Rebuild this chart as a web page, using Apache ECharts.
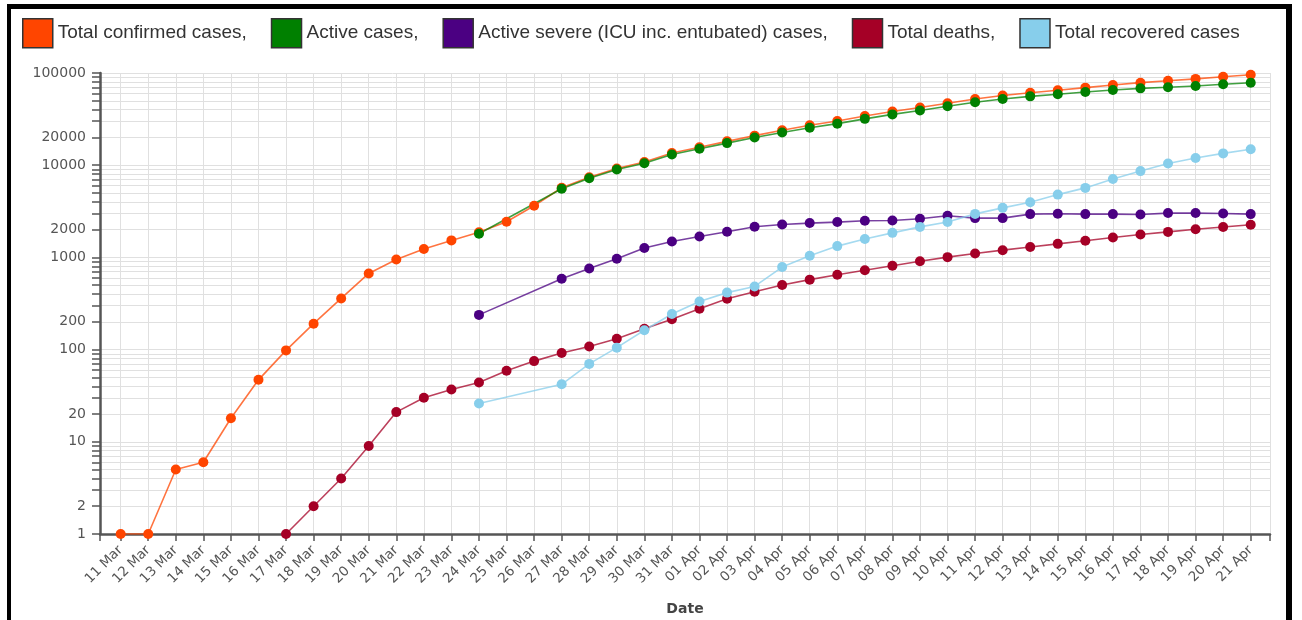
<!DOCTYPE html>
<html>
<head>
<meta charset="utf-8">
<script src="https://cdn.jsdelivr.net/npm/echarts@6/dist/echarts.min.js"></script>
<style>
  html, body { margin: 0; padding: 0; background: #fff; overflow: hidden; }
  #frame {
    position: absolute; left: 7px; top: 4px; width: 1275px; height: 700px;
    border-left: 4px solid #000; border-top: 5px solid #000; border-right: 6px solid #000;
  }
  #chart { position: absolute; left: 0; top: 0; width: 1302px; height: 620px; }
</style>
</head>
<body>
<div id="frame"></div>
<div id="chart"></div>
<script>
(function () {
  const dates = [
    '11 Mar', '12 Mar', '13 Mar', '14 Mar', '15 Mar', '16 Mar', '17 Mar', '18 Mar', '19 Mar', '20 Mar',
    '21 Mar', '22 Mar', '23 Mar', '24 Mar', '25 Mar', '26 Mar', '27 Mar', '28 Mar', '29 Mar', '30 Mar',
    '31 Mar', '01 Apr', '02 Apr', '03 Apr', '04 Apr', '05 Apr', '06 Apr', '07 Apr', '08 Apr', '09 Apr',
    '10 Apr', '11 Apr', '12 Apr', '13 Apr', '14 Apr', '15 Apr', '16 Apr', '17 Apr', '18 Apr', '19 Apr',
    '20 Apr', '21 Apr'
  ];

  const confirmed = [
    1, 1, 5, 6, 18, 47, 98, 191, 359, 670,
    947, 1236, 1529, 1872, 2433, 3629, 5698, 7402, 9217, 10827,
    13531, 15679, 18135, 20921, 23934, 27069, 30217, 34109, 38226, 42282,
    47029, 52167, 56956, 61049, 65111, 69392, 74193, 78546, 82329, 86306,
    90980, 95591
  ];
  const active = [
    null, null, null, null, null, null, null, null, null, null,
    null, null, null, 1802, null, null, 5564, 7224, 8981, 10497,
    13074, 15069, 17364, 20012, 22647, 25453, 28242, 31802, 35568, 39232,
    43600, 48101, 52312, 55796, 58909, 62200, 65461, 68146, 69986, 72313,
    75410, 78414
  ];
  const severe = [
    null, null, null, null, null, null, null, null, null, null,
    null, null, null, 238, null, null, 586, 757, 966, 1262,
    1487, 1686, 1896, 2148, 2275, 2356, 2416, 2495, 2513, 2623,
    2828, 2669, 2669, 2949, 2972, 2949, 2949, 2920, 3025, 3025,
    2993, 2949
  ];
  const deaths = [
    null, null, null, null, null, null, 1, 2, 4, 9,
    21, 30, 37, 44, 59, 75, 92, 108, 131, 168,
    214, 277, 356, 425, 501, 574, 649, 725, 812, 908,
    1006, 1101, 1198, 1296, 1403, 1518, 1643, 1769, 1890, 2017,
    2140, 2259
  ];
  const recovered = [
    null, null, null, null, null, null, null, null, null, null,
    null, null, null, 26, null, null, 42, 70, 105, 162,
    243, 333, 415, 484, 786, 1042, 1326, 1582, 1846, 2142,
    2423, 2965, 3446, 3957, 4799, 5674, 7089, 8631, 10453, 11976,
    13430, 14918
  ];

  const yLabelValues = [1, 2, 10, 20, 100, 200, 1000, 2000, 10000, 20000, 100000];

  // minor log grid: 1..9 x 10^k
  const yGridValues = [];
  for (let k = 0; k < 5; k++) {
    for (let m = 1; m < 10; m++) yGridValues.push(m * Math.pow(10, k));
  }
  yGridValues.push(100000);

  const xMin = -0.75, xMax = 41.7;
  const xIdx = dates.map((d, i) => i);

  const names = [
    'Total confirmed cases',
    'Active cases',
    'Active severe (ICU inc. entubated) cases',
    'Total deaths',
    'Total recovered cases'
  ];
  const colors = ['#ff4500', '#008000', '#4b0082', '#a50026', '#87ceeb'];
  const values = [confirmed, active, severe, deaths, recovered];

  function toPoints(arr) {
    return arr.map((v, i) => (v == null ? null : [i, v])).filter(p => p);
  }

  const series = names.map((name, s) => ({
    name: name,
    type: 'line',
    data: toPoints(values[s]),
    symbol: 'circle',
    symbolSize: 10,
    itemStyle: { color: colors[s] },
    lineStyle: { color: colors[s], width: 1.6, opacity: 0.75 },
    emphasis: { disabled: true },
    animation: false
  }));

  const axisColor = '#555';
  const gridColor = '#e0e0e0';

  const option = {
    animation: false,
    legend: {
      data: names,
      left: 22,
      top: 18,
      padding: 0,
      icon: 'rect',
      itemWidth: 30,
      itemHeight: 29,
      itemGap: 24,
      itemStyle: { borderColor: '#333', borderWidth: 1.5 },
      formatter: n => (n === names[names.length - 1] ? n : n + ','),
      textStyle: { fontFamily: 'Liberation Sans', fontSize: 19, color: '#333' },
      selectedMode: false
    },
    grid: { left: 100, right: 32, top: 73, bottom: 86, containLabel: false, outerBoundsMode: 'none' },
    xAxis: {
      type: 'value',
      min: xMin,
      max: xMax,
      name: 'Date',
      nameLocation: 'middle',
      nameGap: 68,
      nameTextStyle: { fontFamily: 'DejaVu Sans', fontSize: 14, fontWeight: 'bold', color: '#444' },
      axisLine: { onZero: false, lineStyle: { color: axisColor, width: 2.5 } },
      axisTick: { show: true, length: 7, customValues: [xMin].concat(xIdx, [xMax]), lineStyle: { color: axisColor, width: 1.5 } },
      axisLabel: {
        customValues: xIdx,
        rotate: 45,
        margin: 14,
        color: '#555',
        fontFamily: 'DejaVu Sans',
        fontSize: 13.5,
        formatter: v => dates[Math.round(v)]
      },
      splitLine: { show: true, lineStyle: { color: gridColor, width: 1 } }
    },
    yAxis: {
      type: 'log',
      logBase: 10,
      min: 1,
      max: 100000,
      axisLine: { show: true, onZero: false, lineStyle: { color: axisColor, width: 2.5 } },
      axisTick: { show: true, length: 8, customValues: yGridValues, lineStyle: { color: axisColor, width: 1.5 } },
      axisLabel: {
        customValues: yLabelValues,
        margin: 14,
        color: '#555',
        fontFamily: 'DejaVu Sans',
        fontSize: 14,
        formatter: v => String(Math.round(v))
      },
      splitLine: { show: true, lineStyle: { color: gridColor, width: 1 } }
    },
    series: series
  };

  const chart = echarts.init(document.getElementById('chart'), null, { renderer: 'canvas' });
  chart.setOption(option);
})();
</script>
</body>
</html>
